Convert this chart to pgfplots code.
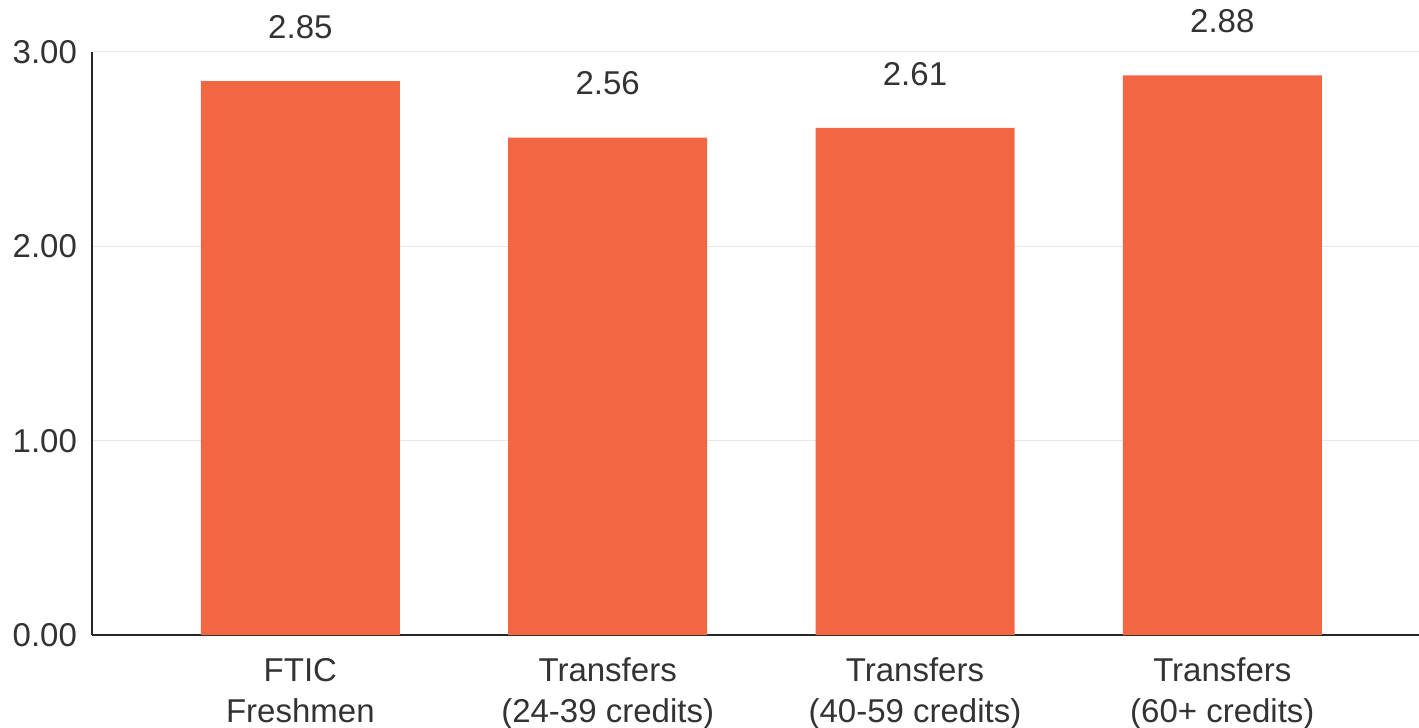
\documentclass[border=0pt]{standalone}
\usepackage{pgfplots}
\pgfplotsset{compat=1.18}
\usepackage{fontspec}
\setmainfont{Liberation Sans}
\definecolor{barc}{HTML}{F26644}
\definecolor{txt}{HTML}{333333}
\definecolor{gridc}{HTML}{E8E8E8}
\begin{document}
\begin{tikzpicture}
\begin{axis}[
  name=ax,
  scale only axis,
  width=663.5pt, height=291.5pt,
  xmin=-0.678, xmax=3.64,
  ymin=0, ymax=3,
  ytick={0,1,2,3},
  yticklabel style={/pgf/number format/fixed,/pgf/number format/fixed zerofill,/pgf/number format/precision=2, font=\fontsize{16.5}{20}\selectfont, text=txt, xshift=-4pt},
  /pgf/number format/assume math mode=true,
  xtick={0,1,2,3},
  xticklabels={{FTIC\\Freshmen},{Transfers\\(24-39 credits)},{Transfers\\(40-59 credits)},{Transfers\\(60+ credits)}},
  xticklabel style={align=center, font=\fontsize{16.5}{20.5}\selectfont, text=txt, yshift=-8pt},
  major tick length=0pt,
  axis x line*=bottom, axis y line*=left,
  axis line style={-, color=black!85, line width=0.75pt},
  ymajorgrids, grid style={gridc, line width=0.5pt},
  ybar, bar width=99.5pt, bar shift=0pt,
  nodes near coords,
  nodes near coords style={font=\fontsize{16.5}{20}\selectfont, text=txt, anchor=center, yshift=27pt, /pgf/number format/fixed,/pgf/number format/fixed zerofill,/pgf/number format/precision=2},
  clip=false,
]
\addplot[fill=barc, draw=none] coordinates {(0,2.85) (1,2.56) (2,2.61) (3,2.88)};
\end{axis}
\pgfresetboundingbox
\path ([xshift=-46pt,yshift=-46.5pt]ax.south west) rectangle ([yshift=26pt]ax.north east);
\end{tikzpicture}
\end{document}
